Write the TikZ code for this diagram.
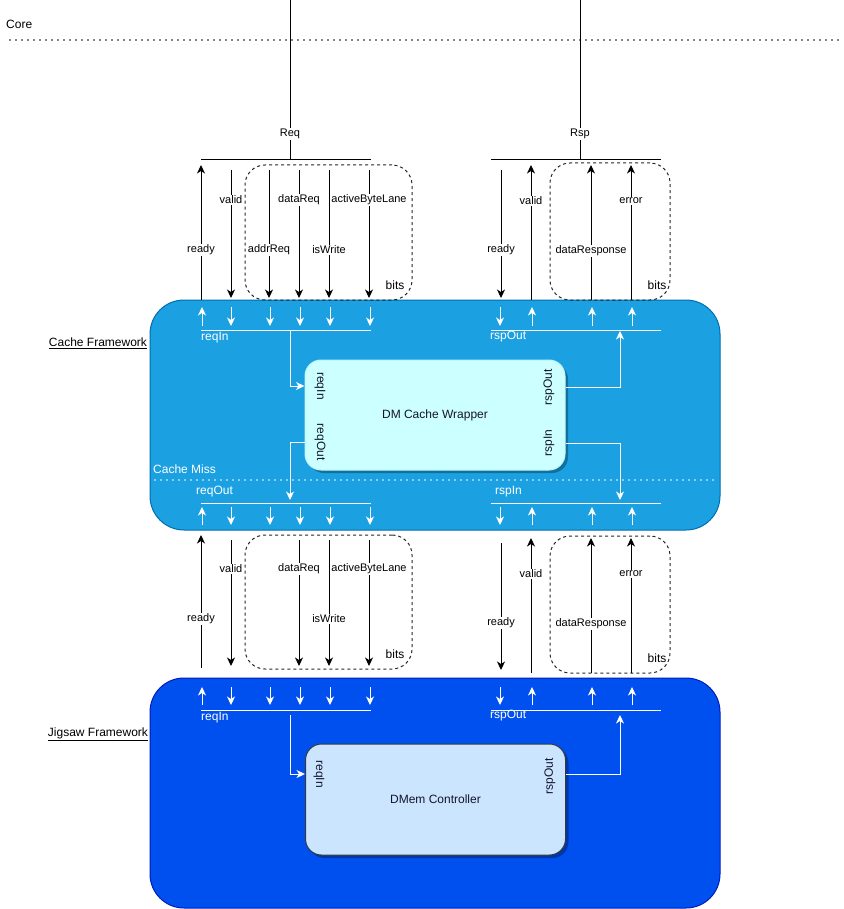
\documentclass[tikz,border=0pt]{standalone}
\usepackage{fontspec}
\setmainfont{Liberation Sans}
\usetikzlibrary{positioning, arrows.meta, shadows}
\definecolor{cacheFill}{HTML}{1BA1E2}
\definecolor{cacheDraw}{HTML}{006EAF}
\definecolor{jigFill}{HTML}{0050EF}
\definecolor{jigDraw}{HTML}{001DBC}
\definecolor{wrapFill}{HTML}{CCFFFF}
\definecolor{wrapDraw}{HTML}{BDF4FA}
\definecolor{dmemFill}{HTML}{CCE5FF}
\definecolor{dmemDraw}{HTML}{36393D}
\definecolor{ink}{HTML}{14142B}
\tikzset{every node/.style={font=\fontsize{12}{14}\selectfont, inner sep=0pt},
         sig/.style={line width=1pt, -{Stealth[length=8.5pt,width=8pt,inset=2.5pt]}},
         wsig/.style={sig, white},
         bus/.style={line width=1pt},
         lbl/.style={fill=white, inner sep=1pt, font=\fontsize{11}{13}\selectfont},
         wlbl/.style={white, anchor=west},
         bitsbox/.style={draw=black!85, dash pattern=on 3pt off 3pt, rounded corners=20pt, line width=1pt},
         frame/.style={line width=1pt, rounded corners=34pt, minimum width=570pt, minimum height=230pt},
         unit/.style={line width=1pt, rounded corners=16pt, minimum width=260pt, minimum height=110pt, text=ink,
                      drop shadow={shadow xshift=3pt, shadow yshift=-3pt, fill=black, opacity=0.3}},
         port/.style={text=ink},
         dots/.style={line width=1.6pt, line cap=round, dash pattern=on 0pt off 6pt},
        }
\begin{document}
\begin{tikzpicture}[x=1pt,y=-1pt]
    \useasboundingbox (0,0) rectangle (843,909);
    \node[frame, fill=cacheFill, draw=cacheDraw] (cache) at (435,415) {};
    \node[frame, fill=jigFill, draw=jigDraw] (jig) at (435,793) {};
    \node (cacheLbl) at (98,343) {\underline{Cache Framework}};
    \node (jigLbl) at (98,734) {\underline{Jigsaw Framework}};
    \node[anchor=west] (core) at (6,24) {Core};
    \coordinate (coreL) at (10,40);
    \coordinate (coreR) at (838,40);
    \draw[dots] (coreL) -- (coreR);

    \coordinate (reqTop) at (290,0);
    \coordinate (reqJ) at (290,160);
    \coordinate (reqL) at (201,160);
    \coordinate (reqR) at (371,160);
    \draw[bus] (reqTop) -- (reqJ) node[lbl] at (290,134) {Req};
    \draw[bus] (reqL) -- (reqR);
    \coordinate (rspTop) at (580,0);
    \coordinate (rspJ) at (580,160);
    \coordinate (rspL) at (491,160);
    \coordinate (rspR) at (661,160);
    \draw[bus] (rspTop) -- (rspJ) node[lbl] at (580,134) {Rsp};
    \draw[bus] (rspL) -- (rspR);

    \node[bitsbox, minimum width=167pt, minimum height=135pt] (bitsReqA) at (328.5,232.5) {};
    \node (bitsReqAL) at (395,285) {bits};
    \node[bitsbox, minimum width=120pt, minimum height=137pt] (bitsRspA) at (610,231.5) {};
    \node (bitsRspAL) at (657,285) {bits};
    \node[bitsbox, minimum width=167pt, minimum height=134pt] (bitsReqB) at (328.5,602) {};
    \node (bitsReqBL) at (395,654) {bits};
    \node[bitsbox, minimum width=120pt, minimum height=137pt] (bitsRspB) at (610,604.5) {};
    \node (bitsRspBL) at (657,658) {bits};

    \foreach \n/\x/\ya/\yb/\t/\ly in {rdy/201/300/165/ready/250, vld/231/170/298/valid/200,
        adr/269/170/298/addrReq/250, dat/299/170/298/dataReq/200, wr/329/170/298/isWrite/250,
        abl/369/170/298/activeByteLane/200, rrdy/501/170/298/ready/250, rvld/531/300/165/valid/201,
        rdat/591/300/165/dataResponse/251, rerr/631/300/165/error/201}{
        \coordinate (up-\n-s) at (\x,\ya);
        \coordinate (up-\n-e) at (\x,\yb);
        \draw[sig] (up-\n-s) -- (up-\n-e) node[lbl] at (\x,\ly) {\t};
    }
    \foreach \n/\x/\ya/\yb/\t/\ly in {rdy/201/668/535/ready/619, vld/231/540/666/valid/569,
        dat/299/540/666/dataReq/569, wr/329/540/666/isWrite/619, abl/369/540/666/activeByteLane/569,
        rrdy/501/543/670/ready/623, rvld/531/673/538/valid/574, rdat/591/673/538/dataResponse/624,
        rerr/631/673/538/error/574}{
        \coordinate (lo-\n-s) at (\x,\ya);
        \coordinate (lo-\n-e) at (\x,\yb);
        \draw[sig] (lo-\n-s) -- (lo-\n-e) node[lbl] at (\x,\ly) {\t};
    }

    \foreach \r/\yt/\yb/\yl in {a/307/326/330, b/507/525/503, c/687/705/710}{
        \coordinate (\r-reqL) at (201,\yl);
        \coordinate (\r-reqR) at (371,\yl);
        \coordinate (\r-rspL) at (491,\yl);
        \coordinate (\r-rspR) at (661,\yl);
        \draw[bus, white] (\r-reqL) -- (\r-reqR);
        \draw[bus, white] (\r-rspL) -- (\r-rspR);
        \foreach \x in {231,270,300,330,370,500}{
            \coordinate (\r-\x-t) at (\x,\yt);
            \coordinate (\r-\x-b) at (\x,\yb);
            \draw[wsig] (\r-\x-t) -- (\r-\x-b);
        }
        \foreach \x in {202,532,592,632}{
            \coordinate (\r-\x-t) at (\x,\yt);
            \coordinate (\r-\x-b) at (\x,\yb);
            \draw[wsig] (\r-\x-b) -- (\r-\x-t);
        }
    }
    \node[wlbl] (ca-reqIn) at (201,338) {reqIn};
    \node[wlbl] (ca-rspOut) at (490,337) {rspOut};
    \node[wlbl] (cb-reqOut) at (196,492) {reqOut};
    \node[wlbl] (cb-rspIn) at (495,492) {rspIn};
    \node[wlbl] (jg-reqIn) at (201,718) {reqIn};
    \node[wlbl] (jg-rspOut) at (490,716) {rspOut};

    \node[wlbl] (miss) at (153,469) {Cache Miss};
    \coordinate (missL) at (155,480);
    \coordinate (missR) at (717,480);
    \draw[dots, white] (missL) -- (missR);

    \node[unit, fill=wrapFill, draw=wrapDraw] (wrap) at (435,415) {DM Cache Wrapper};
    \node[port, rotate=-90] (wp-reqIn) at (320,386) {reqIn};
    \node[port, rotate=-90] (wp-reqOut) at (320,442) {reqOut};
    \node[port, rotate=90] (wp-rspOut) at (549,387) {rspOut};
    \node[port, rotate=90] (wp-rspIn) at (549,443) {rspIn};
    \coordinate (ca-reqTap) at (290,331);
    \coordinate (ca-rspTap) at (620,331);
    \coordinate (cb-reqTap) at (290,500);
    \coordinate (cb-rspTap) at (620,500);
    \draw[wsig] (ca-reqTap) |- (wrap.west |- wp-reqIn);
    \draw[wsig] (wrap.east |- wp-rspOut) -| (ca-rspTap);
    \draw[wsig] (wrap.west |- wp-reqOut) -| (cb-reqTap);
    \draw[wsig] (wrap.east |- wp-rspIn) -| (cb-rspTap);

    \node[unit, fill=dmemFill, draw=dmemDraw, minimum height=111pt] (dmem) at (435.5,799.5) {DMem Controller};
    \node[port, rotate=-90] (dp-reqIn) at (319,774) {reqIn};
    \node[port, rotate=90] (dp-rspOut) at (550,776) {rspOut};
    \coordinate (jg-reqTap) at (290,715);
    \coordinate (jg-rspTap) at (620,715);
    \draw[wsig] (jg-reqTap) |- (dmem.west |- dp-reqIn);
    \draw[wsig] (dmem.east |- dp-reqIn) -| (jg-rspTap);
\end{tikzpicture}
\end{document}
